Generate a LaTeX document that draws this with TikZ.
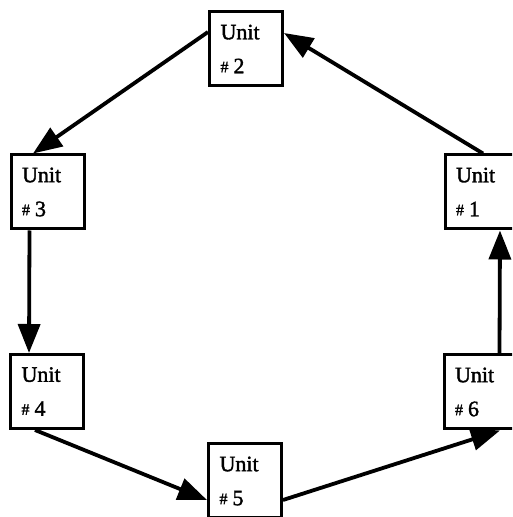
\documentclass[tikz,border=0pt]{standalone}
\usepackage{fontspec}
\setmainfont{Liberation Serif}
\newfontfamily\unitfont[FakeBold=1.6]{Liberation Serif}
\usetikzlibrary{arrows.meta}
\begin{document}
\begin{tikzpicture}[x=1pt,y=1pt,
  unitbox/.style={draw, line width=3pt, rectangle, minimum width=73pt, minimum height=74pt,
    inner xsep=11pt, text width=51pt, align=left, font=\unitfont\fontsize{22}{34}\selectfont},
  flow/.style={line width=3.8pt, -{Triangle[length=29pt,width=22pt]}}]
\useasboundingbox[clip] (0,0) rectangle (512,517);
\fill[white] (0,0) rectangle (512,517);
\newcommand{\unitno}[1]{Unit\\\raisebox{1pt}{\fontsize{16}{16}\selectfont\#}\hspace{5pt}#1}
\node[unitbox] (u2) at (246,468)   {\unitno{2}};
\node[unitbox] (u3) at (47.5,325)  {\unitno{3}};
\node[unitbox] (u1) at (481.5,325) {\unitno{1}};
\node[unitbox] (u4) at (47,125.5)  {\unitno{4}};
\node[unitbox] (u6) at (480.5,125) {\unitno{6}};
\node[unitbox] (u5) at (245,36)    {\unitno{5}};
% ring of connections
\draw[flow] ([xshift=1.5pt]u1.north) -- ([yshift=16pt]u2.east);
\draw[flow] ([yshift=17pt]u2.west) -- ([xshift=-14.5pt]u3.north);
\draw[flow] ([xshift=-18pt]u3.south) -- ([xshift=-18pt]u4.north);
\draw[flow] ([xshift=-12pt]u4.south) -- ([yshift=-19pt]u5.west);
\draw[flow] ([yshift=-19pt]u5.east) -- ([xshift=19.5pt]u6.south);
\draw[flow] ([xshift=19pt]u6.north) -- ([xshift=18.5pt]u1.south);
\end{tikzpicture}
\end{document}
